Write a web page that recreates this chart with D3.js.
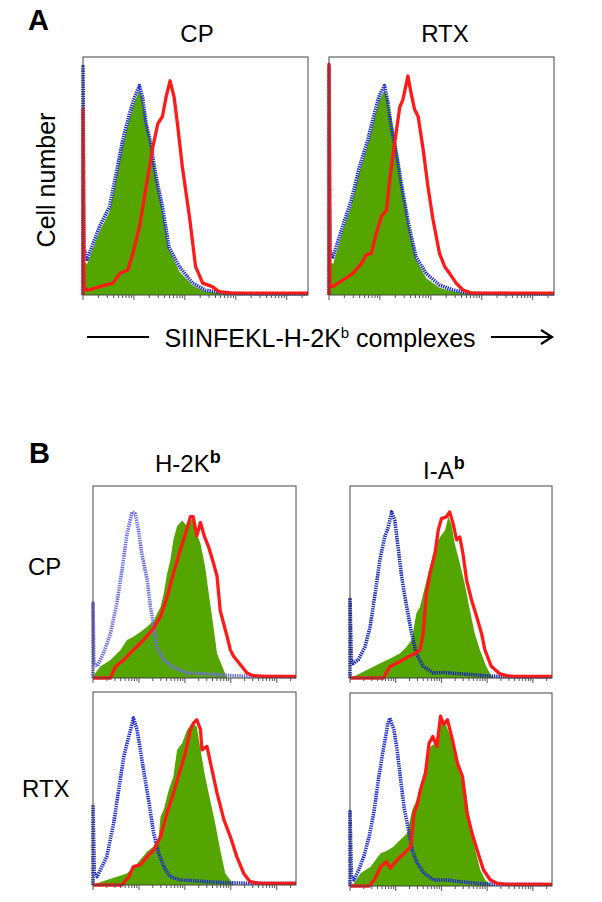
<!DOCTYPE html>
<html><head><meta charset="utf-8">
<script src="https://cdn.jsdelivr.net/npm/d3@7"></script>
<style>body{margin:0;background:#fff}svg text{font-family:"Liberation Sans",Arial,Helvetica,sans-serif;fill:#000}</style>
</head><body>
<svg id="chart" width="602" height="902"></svg>
<script>
// ---------- DATA: [log10 fluorescence, % of max] ----------
const xDomain = [10, 262144];   // fluorescence axis (log)
const yDomain = [0, 100];        // cell number (% of max)

// Panel A – SIINFEKL-H-2Kb
const aCpGreen = [[1,0],[1,98],[1.02,14],[1.08,13],[1.33,27],[1.52,35],[1.65,49],[1.78,63],[1.91,74],[2.01,81],[2.11,86],[2.17,82],[2.24,74],[2.33,65],[2.43,50],[2.56,36],[2.69,19],[2.89,10],[3.15,4],[3.41,1.5],[3.8,0.5],[5.418,0.3]];
const aCpBlue  = [[1,0],[1,96],[1.02,20],[1.08,15],[1.33,29],[1.52,37],[1.65,51],[1.78,65],[1.91,76],[2.01,83],[2.11,88],[2.17,83],[2.24,72],[2.33,64],[2.43,50],[2.56,37],[2.69,20],[2.89,12],[3.15,5],[3.41,2],[3.8,0.7],[4.5,0.4],[5.418,0.4]];
const aCpRed   = [[1,0],[1,78],[1.02,3],[1.10,2],[1.33,3.5],[1.59,5],[1.72,9],[1.88,10.5],[1.98,17.5],[2.11,28.7],[2.24,45.5],[2.37,62],[2.47,72],[2.56,75],[2.63,83],[2.71,90],[2.79,83],[2.86,71],[2.95,54],[3.09,33],[3.21,12],[3.35,5],[3.54,3.5],[3.67,1.4],[3.93,0.8],[5.418,0.8]];

const aRtxGreen = [[1,0],[1,98],[1.02,14],[1.08,13],[1.27,27],[1.44,38],[1.60,52],[1.76,63],[1.90,75],[1.99,82],[2.09,86],[2.15,83],[2.22,75],[2.32,64],[2.45,45],[2.59,27],[2.71,15],[2.91,7],[3.17,3],[3.43,1.5],[3.76,0.5],[5.418,0.3]];
const aRtxBlue  = [[1,0],[1,96],[1.02,18],[1.08,16],[1.27,29],[1.44,40],[1.60,54],[1.76,65],[1.90,77],[1.99,84],[2.09,88],[2.15,82],[2.22,71],[2.32,60],[2.45,43],[2.59,27],[2.71,16],[2.91,9],[3.17,4.2],[3.43,2.1],[3.76,0.7],[5.418,0.4]];
const aRtxRed   = [[1,0],[1,97],[1.02,4],[1.08,3.5],[1.27,6.3],[1.47,9.1],[1.64,13.3],[1.73,16.8],[1.83,17.5],[1.93,26],[2.03,33],[2.13,35.7],[2.19,48],[2.29,64],[2.39,79],[2.45,82],[2.55,92],[2.61,85],[2.68,78],[2.75,75],[2.85,61],[2.94,46],[3.04,32],[3.17,17.5],[3.27,12],[3.37,9],[3.50,4.9],[3.63,2.1],[3.80,0.8],[5.418,0.8]];

// Panel B – H-2Kb
const bKbCpGreen = [[1,0],[1.03,2],[1.16,6],[1.38,9.4],[1.60,14.6],[1.74,19.8],[1.88,21.5],[2.03,24],[2.18,26.7],[2.32,30],[2.47,37],[2.54,44],[2.61,54],[2.68,61],[2.75,72],[2.83,79],[2.94,82],[3.05,79],[3.16,83],[3.26,75],[3.34,70],[3.44,58],[3.52,44],[3.62,27],[3.70,12.8],[3.83,5],[3.92,0],[5.418,0]];
const bKbCpBlue  = [[1,0],[1,39],[1.02,8],[1.09,6],[1.23,13],[1.38,23],[1.52,39],[1.63,56],[1.74,75],[1.85,86.5],[1.92,85.5],[1.99,77],[2.06,65],[2.18,51],[2.25,37],[2.32,27],[2.39,16],[2.54,9.4],[2.75,5.5],[3.05,2.6],[3.48,2.1],[4.06,1.2],[4.49,0.9],[5.418,0.6]];
const bKbCpRed   = [[1,0],[1.38,0],[1.49,6],[1.67,9.4],[1.88,14.6],[2.10,19.8],[2.29,25],[2.47,32],[2.61,42],[2.75,54.4],[2.90,66.7],[3.01,75],[3.12,84],[3.18,84],[3.26,74],[3.34,81],[3.42,74],[3.52,68],[3.62,60],[3.70,53],[3.77,35],[3.92,21.5],[3.99,14.6],[4.06,11.3],[4.21,6.9],[4.35,2.6],[4.49,1.2],[4.71,0.8],[5.418,0.8]];

const bKbRtxGreen = [[1,0],[1.09,0.9],[1.30,2.6],[1.52,4.3],[1.74,6],[1.96,11.2],[2.18,17.3],[2.32,19.9],[2.43,25],[2.47,35.5],[2.54,39],[2.65,49.3],[2.75,56.2],[2.83,70],[2.94,73.5],[3.05,80.5],[3.16,84],[3.26,82],[3.34,70],[3.44,56.2],[3.55,44],[3.66,32],[3.77,18],[3.88,6],[3.99,2.6],[4.06,0],[5.418,0]];
const bKbRtxBlue  = [[1,0],[1,41.5],[1.03,6],[1.09,4.3],[1.16,7.8],[1.30,14.7],[1.45,32],[1.56,49.3],[1.67,66.6],[1.78,77],[1.88,86.5],[1.96,80.5],[2.03,70],[2.10,59.7],[2.21,44],[2.32,26.8],[2.43,16.4],[2.54,9.5],[2.68,4.3],[2.90,2.6],[3.19,2.2],[3.48,1.7],[3.92,1.2],[4.35,0.9],[5.418,0.9]];
const bKbRtxRed   = [[1,0],[1.63,0],[1.78,4.3],[1.88,9.5],[2.03,10.4],[2.18,14.7],[2.32,18],[2.47,25],[2.61,37.2],[2.75,47.6],[2.90,59.7],[3.01,68.3],[3.12,80.5],[3.19,84],[3.26,85.6],[3.34,80.5],[3.37,70],[3.48,71.8],[3.59,59.7],[3.70,47.6],[3.85,33.7],[3.99,25],[4.13,14.7],[4.28,6],[4.42,1.7],[4.64,0.8],[5.418,0.8]];

// Panel B – I-Ab
const bIaCpGreen = [[1,0],[1.07,0.7],[1.36,4],[1.65,7.6],[1.87,10],[2.09,12.8],[2.24,16.3],[2.35,19.8],[2.45,33.6],[2.53,37],[2.64,47.5],[2.75,58],[2.86,68.3],[2.97,73.5],[3.08,77],[3.15,84],[3.22,80],[3.29,70],[3.40,60],[3.51,49],[3.62,35.5],[3.73,23],[3.84,14.7],[3.98,6],[4.09,1.2],[4.15,0],[5.418,0]];
const bIaCpBlue  = [[1,0],[1,41],[1.03,9],[1.07,7.6],[1.18,9.4],[1.33,16.3],[1.44,26.7],[1.55,44],[1.65,61],[1.76,73.5],[1.84,78.7],[1.91,86.5],[1.98,82],[2.06,66.5],[2.13,52.7],[2.24,37],[2.35,23],[2.45,12.8],[2.60,6],[2.82,2.6],[3.04,2.9],[3.33,2.3],[3.70,1.7],[4.13,0.9],[4.64,0.6],[5.418,0.6]];
const bIaCpRed   = [[1,0],[1.73,0],[1.87,6],[2.09,8.5],[2.27,11],[2.42,12.8],[2.53,14.6],[2.60,23],[2.67,44],[2.75,54.5],[2.86,65],[2.93,77],[3.00,83],[3.11,84],[3.18,86.5],[3.26,80],[3.33,72],[3.40,73.5],[3.47,65],[3.55,51],[3.66,40.5],[3.77,32],[3.88,23],[3.95,14.7],[4.09,6.1],[4.27,2.3],[4.42,1.2],[4.6,0.8],[5.418,0.8]];

const bIaRtxGreen = [[1,0],[1.09,1.4],[1.23,6.6],[1.45,10],[1.67,17],[1.81,18.2],[1.95,20.4],[2.10,23.9],[2.25,27.3],[2.36,39.4],[2.43,43],[2.54,49.8],[2.65,60.2],[2.76,72.3],[2.87,74],[2.98,85.3],[3.09,84],[3.20,77.5],[3.31,65.4],[3.42,56.7],[3.53,49.8],[3.63,32.5],[3.74,18.7],[3.85,8.3],[3.96,3.1],[4.07,0.5],[4.15,0],[5.418,0]];
const bIaRtxBlue  = [[1,0],[1,38.6],[1.03,5],[1.09,3.1],[1.19,8.3],[1.30,15.2],[1.42,25.6],[1.53,39.4],[1.63,56.7],[1.74,72.3],[1.83,84.4],[1.87,87],[1.96,81],[2.03,70.6],[2.10,56.7],[2.18,41.2],[2.25,32.5],[2.36,18.7],[2.47,11.8],[2.62,6.6],[2.83,3.1],[3.13,3.1],[3.42,2.2],[3.78,1.4],[4.15,0.9],[5.418,0.8]];
const bIaRtxRed   = [[1,0],[1.42,0],[1.53,3.1],[1.67,10],[1.80,12.6],[1.88,9.2],[2.03,13.5],[2.18,16.8],[2.33,20.4],[2.40,37.7],[2.47,42],[2.54,49.8],[2.65,58.5],[2.73,74],[2.81,77.5],[2.90,72.3],[2.98,88],[3.05,83.6],[3.13,86.2],[3.24,75.8],[3.35,63.7],[3.46,56.7],[3.56,37.7],[3.67,27.3],[3.78,18.7],[3.92,8.3],[4.07,3.1],[4.22,1.4],[4.45,0.8],[5.418,0.8]];

// ---------- DRAWING ----------
const svg = d3.select("#chart");
const GREEN = "#55a500", RED = "#ff1a1a", BLUE = "#1f2ccf", BLUE_LIGHT = "#6e70e0", BLUE_DARK = "#1a2ab4";

const panels = [
  {x0:83,  x1:308, y0:57,  y1:295, green:aCpGreen,   blue:aCpBlue,   red:aCpRed,   blueColor:BLUE},
  {x0:329, x1:554, y0:57,  y1:295, green:aRtxGreen,  blue:aRtxBlue,  red:aRtxRed,  blueColor:BLUE},
  {x0:93,  x1:296, y0:486, y1:678, green:bKbCpGreen, blue:bKbCpBlue, red:bKbCpRed, blueColor:BLUE_LIGHT},
  {x0:350, x1:552, y0:486, y1:678, green:bIaCpGreen, blue:bIaCpBlue, red:bIaCpRed, blueColor:BLUE_DARK},
  {x0:93,  x1:296, y0:692, y1:885, green:bKbRtxGreen,blue:bKbRtxBlue,red:bKbRtxRed,blueColor:BLUE},
  {x0:350, x1:552, y0:693, y1:886, green:bIaRtxGreen,blue:bIaRtxBlue,red:bIaRtxRed,blueColor:BLUE}
];

panels.forEach((p,i) => {
  const x = d3.scaleLog().domain(xDomain).range([p.x0, p.x1]);
  const y = d3.scaleLinear().domain(yDomain).range([p.y1, p.y0]);
  const g = svg.append("g");
  const area = d3.area().x(d => x(Math.pow(10,d[0]))).y0(y(0)).y1(d => y(d[1]));
  const line = d3.line().x(d => x(Math.pow(10,d[0]))).y(d => y(d[1]));

  g.append("path").attr("d", area(p.green)).attr("fill", GREEN);
  g.append("path").attr("d", line(p.blue)).attr("fill","none").attr("stroke", p.blueColor)
    .attr("stroke-width", 3.6).attr("stroke-dasharray","1.4,0.9").attr("stroke-linejoin","round");
  g.append("path").attr("d", line(p.red)).attr("fill","none").attr("stroke", RED)
    .attr("stroke-width", 3.3).attr("stroke-linejoin","round");

  // frame
  g.append("rect").attr("x", p.x0).attr("y", p.y0).attr("width", p.x1-p.x0).attr("height", p.y1-p.y0)
    .attr("fill","none").attr("stroke","#444").attr("stroke-width",1);

  // log ticks (no labels)
  const ticks = x.ticks();
  g.selectAll("line.tk").data(ticks).enter().append("line")
    .attr("x1", d => x(d)).attr("x2", d => x(d))
    .attr("y1", p.y1).attr("y2", d => p.y1 + (Math.abs(Math.log10(d) - Math.round(Math.log10(d))) < 1e-6 ? 5 : 3))
    .attr("stroke","#555").attr("stroke-width",1);
});

// ---------- TEXT ----------
function txt(x, y, s, size, opts={}) {
  const t = svg.append("text").attr("x", x).attr("y", y).attr("font-size", size)
    .attr("text-anchor", opts.anchor || "middle").attr("font-weight", opts.bold ? "bold" : "normal");
  if (opts.rotate) t.attr("transform", `rotate(${opts.rotate},${x},${y})`);
  t.text(s);
  return t;
}
txt(28, 30, "A", 29, {anchor:"start", bold:true});
txt(197, 42, "CP", 24);
txt(445, 42, "RTX", 24);
txt(55, 180, "Cell number", 25, {rotate:-90});

// x axis label with arrow
const lab = svg.append("text").attr("x", 320).attr("y", 347).attr("font-size", 25).attr("text-anchor","middle");
lab.append("tspan").text("SIINFEKL-H-2K");
lab.append("tspan").attr("font-size", 15).attr("dy", -9).text("b");
lab.append("tspan").attr("dy", 9).text(" complexes");
svg.append("line").attr("x1", 87).attr("x2", 149).attr("y1", 337).attr("y2", 337).attr("stroke","#000").attr("stroke-width",2);
svg.append("line").attr("x1", 491).attr("x2", 551).attr("y1", 337).attr("y2", 337).attr("stroke","#000").attr("stroke-width",2);
svg.append("path").attr("d","M541,330 L552,337 L541,344").attr("fill","none").attr("stroke","#000").attr("stroke-width",2.2);

txt(29, 463, "B", 29, {anchor:"start", bold:true});
const t1 = svg.append("text").attr("x", 155).attr("y", 472).attr("font-size", 24);
t1.append("tspan").text("H-2K");
t1.append("tspan").attr("font-size", 18).attr("font-weight","bold").attr("dy", -9).text("b");
const t2 = svg.append("text").attr("x", 423).attr("y", 479).attr("font-size", 24);
t2.append("tspan").text("I-A");
t2.append("tspan").attr("font-size", 18).attr("font-weight","bold").attr("dy", -10).text("b");
txt(28, 575, "CP", 24, {anchor:"start"});
txt(22, 797, "RTX", 24, {anchor:"start"});
</script>
</body></html>
